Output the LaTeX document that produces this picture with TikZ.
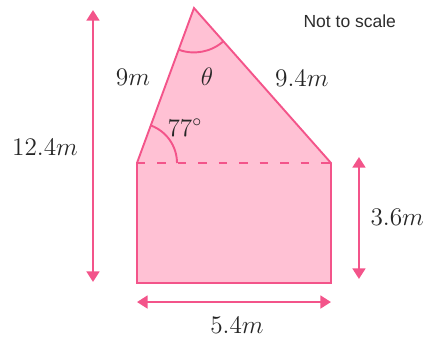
\documentclass[tikz,border=0pt]{standalone}
\usepackage{fontspec}
\setsansfont{Liberation Sans}
\definecolor{pinkline}{RGB}{243, 84, 138}
\definecolor{pinkfill}{RGB}{255, 193, 212}
\definecolor{notegray}{RGB}{45, 45, 45}
\usetikzlibrary{arrows.meta, angles}
\usepackage{amsmath, amssymb}

\tikzset{
  lbl/.style={font=\fontsize{11.5}{13.8}\selectfont, text=black!85},
  dimarrow/.style={draw=pinkline, line width=1.2pt, {Triangle[length=5pt, width=6pt]}-{Triangle[length=5pt, width=6pt]}},
  anglearc/.style={draw=pinkline, line width=0.9pt}
}

\begin{document}
\begin{tikzpicture}
  \useasboundingbox (0, 0) rectangle (7.117, 5.667);

  % Corners of the shape
  \coordinate (apex) at (3.233, 5.533);
  \coordinate (ltop) at (2.283, 2.95);
  \coordinate (rtop) at (5.517, 2.95);
  \coordinate (lbot) at (2.283, 0.95);
  \coordinate (rbot) at (5.517, 0.95);

  % The shape
  \draw[draw=pinkline, fill=pinkfill, line width=0.9pt, line join=miter] (lbot) -- (ltop) -- (apex) -- (rtop) -- (rbot) -- cycle;
  \draw[draw=pinkline, line width=0.9pt, dash pattern=on 4pt off 5.7pt] (ltop) -- (rtop);

  % Angles
  \pic[anglearc, angle radius=0.74cm] {angle = ltop--apex--rtop};
  \pic[anglearc, angle radius=0.667cm] {angle = rtop--ltop--apex};

  % Dimension arrows
  \coordinate (htop) at (1.55, 5.5);
  \coordinate (hbot) at (1.55, 0.967);
  \draw[dimarrow] (htop) -- (hbot);

  \coordinate (rtarrow) at (5.983, 3.05);
  \coordinate (rbarrow) at (5.983, 1.017);
  \draw[dimarrow] (rtarrow) -- (rbarrow);

  \coordinate (bl) at (2.283, 0.633);
  \coordinate (br) at (5.517, 0.633);
  \draw[dimarrow] (bl) -- (br);

  % Labels
  \node[lbl] (height) at (0.75, 3.217) {$12.4m$};
  \node[lbl] (leftside) at (2.217, 4.37) {$9m$};
  \node[lbl] (theta) at (3.45, 4.38) {$\theta$};
  \node[lbl] (rightside) at (5.03, 4.36) {$9.4m$};
  \node[lbl] (base) at (3.083, 3.54) {$77^{\circ}$};
  \node[lbl] (wall) at (6.62, 2.05) {$3.6m$};
  \node[lbl] (width) at (3.95, 0.25) {$5.4m$};
  \node[font=\sffamily\fontsize{8.3}{10}\selectfont, text=notegray] (note) at (5.83, 5.32) {Not to scale};
\end{tikzpicture}
\end{document}
